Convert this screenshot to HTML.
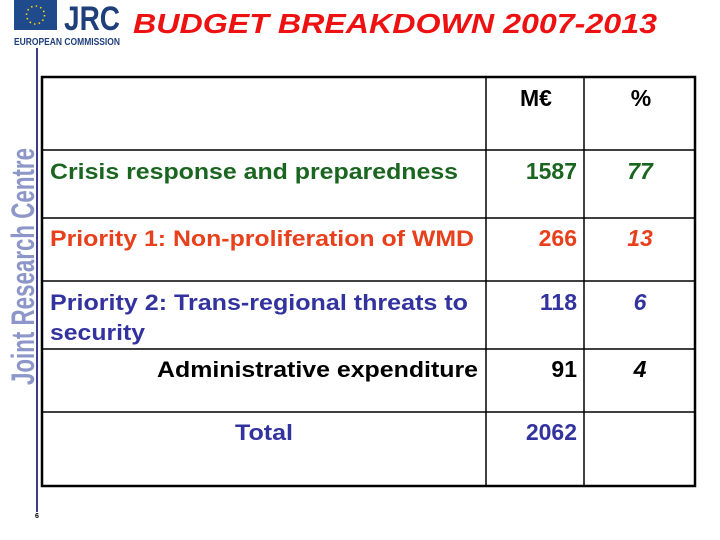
<!DOCTYPE html>
<html><head><meta charset="utf-8"><style>
html,body{margin:0;padding:0;background:#fff;}
svg{display:block;}
text{font-family:"Liberation Sans",Arial,sans-serif;font-weight:bold;}
</style></head><body>
<svg width="720" height="540" viewBox="0 0 720 540">
  <g>
    <rect x="14" y="0" width="43" height="30" fill="#1f4a8c"/>
    <circle cx="35.5" cy="15" r="9" fill="none" stroke="#ffd700" stroke-width="1.6" stroke-dasharray="1.5 3.2"/>
    <text x="64" y="30" font-size="34" fill="#1f3f7a" textLength="56" lengthAdjust="spacingAndGlyphs">JRC</text>
    <text x="14" y="45" font-size="10" fill="#1f3f7a" textLength="106" lengthAdjust="spacingAndGlyphs">EUROPEAN COMMISSION</text>
  </g>
  <text x="133" y="33" font-size="28" font-style="italic" fill="#ee1111" textLength="524" lengthAdjust="spacingAndGlyphs">BUDGET BREAKDOWN 2007-2013</text>
  <line x1="37" y1="48" x2="37" y2="512" stroke="#3c3c8c" stroke-width="2"/>
  <text transform="translate(34,385) rotate(-90)" font-size="32" fill="#8c96c8" textLength="237" lengthAdjust="spacingAndGlyphs">Joint Research Centre</text>
  <text x="35" y="518" font-size="7" font-weight="normal" fill="#000">6</text>

  <g stroke="#000">
    <rect x="42" y="77" width="653" height="409" fill="none" stroke-width="2.5"/>
    <line x1="486" y1="77" x2="486" y2="486" stroke-width="1.5"/>
    <line x1="584" y1="77" x2="584" y2="486" stroke-width="1.5"/>
    <line x1="42" y1="150" x2="695" y2="150" stroke-width="1.5"/>
    <line x1="42" y1="218" x2="695" y2="218" stroke-width="1.5"/>
    <line x1="42" y1="281" x2="695" y2="281" stroke-width="1.5"/>
    <line x1="42" y1="349" x2="695" y2="349" stroke-width="1.5"/>
    <line x1="42" y1="412" x2="695" y2="412" stroke-width="1.5"/>
  </g>

  <g font-size="22">
    <text x="536" y="106" text-anchor="middle" font-size="23" fill="#000">M€</text>
    <text x="641" y="106" text-anchor="middle" font-size="23" fill="#000">%</text>

    <text x="50" y="179" fill="#1a6620" textLength="408" lengthAdjust="spacingAndGlyphs">Crisis response and preparedness</text>
    <text x="577" y="179" text-anchor="end" font-size="23" fill="#1a6620">1587</text>
    <text x="640" y="179" text-anchor="middle" font-size="23" font-style="italic" fill="#1a6620">77</text>

    <text x="50" y="246" fill="#e8401c" textLength="424" lengthAdjust="spacingAndGlyphs">Priority 1: Non-proliferation of WMD</text>
    <text x="577" y="246" text-anchor="end" font-size="23" fill="#e8401c">266</text>
    <text x="640" y="246" text-anchor="middle" font-size="23" font-style="italic" fill="#e8401c">13</text>

    <text x="50" y="310" fill="#3333a0" textLength="418" lengthAdjust="spacingAndGlyphs">Priority 2: Trans-regional threats to</text>
    <text x="50" y="340" fill="#3333a0" textLength="95" lengthAdjust="spacingAndGlyphs">security</text>
    <text x="577" y="310" text-anchor="end" font-size="23" fill="#3333a0">118</text>
    <text x="640" y="310" text-anchor="middle" font-size="23" font-style="italic" fill="#3333a0">6</text>

    <text x="157" y="377" fill="#000" textLength="321" lengthAdjust="spacingAndGlyphs">Administrative expenditure</text>
    <text x="577" y="377" text-anchor="end" font-size="23" fill="#000">91</text>
    <text x="640" y="377" text-anchor="middle" font-size="23" font-style="italic" fill="#000">4</text>

    <text x="235" y="440" fill="#3333a0" textLength="58" lengthAdjust="spacingAndGlyphs">Total</text>
    <text x="577" y="440" text-anchor="end" font-size="23" fill="#3333a0">2062</text>
  </g>
</svg>
</body></html>
